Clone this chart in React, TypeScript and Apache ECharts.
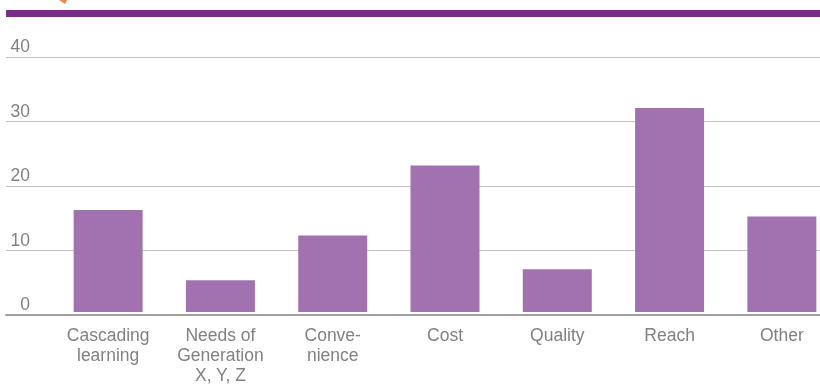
import React, { useEffect, useRef } from "react";
import * as echarts from "echarts";

const categories = [
  "Cascading\nlearning",
  "Needs of\nGeneration\nX, Y, Z",
  "Conve-\nnience",
  "Cost",
  "Quality",
  "Reach",
  "Other",
];
const values = [16, 5, 12, 23, 6.7, 32, 15];
const yTicks = { min: 0, max: 40, interval: 10 };

export default function App() {
  const ref = useRef<HTMLDivElement>(null);
  useEffect(() => {
    if (!ref.current) return;
    const chart = echarts.init(ref.current, null, { renderer: "svg" });
    const font = "'Liberation Sans', Arial, sans-serif";
    const labelColor = "#818181";
    chart.setOption({
      animation: false,
      graphic: [
        { type: "rect", shape: { x: 6, y: 10, width: 814, height: 7 }, style: { fill: "#7c2b8c" } },
        { type: "polygon", shape: { points: [[59, 0], [67, 0], [65, 4]] }, style: { fill: "#f0874a" } },
      ],
      grid: [
        { left: 52, top: 57, width: 786, height: 258 },
        { left: 6, top: 57, width: 814, height: 258 },
      ],
      xAxis: [
        {
          type: "category",
          gridIndex: 0,
          data: categories,
          axisLine: { show: false },
          axisTick: { show: false },
          axisLabel: {
            interval: 0,
            color: labelColor,
            fontSize: 17.5,
            fontFamily: font,
            lineHeight: 20,
            margin: 13,
          },
        },
        {
          type: "category",
          gridIndex: 1,
          data: categories,
          axisLine: { show: true, lineStyle: { color: "#a0a0a0", width: 2 } },
          axisTick: { show: false },
          axisLabel: { show: false },
        },
      ],
      yAxis: [
        { type: "value", gridIndex: 0, ...yTicks, show: false },
        {
          type: "value",
          gridIndex: 1,
          ...yTicks,
          axisLine: { show: false },
          axisTick: { show: false },
          splitLine: { lineStyle: { color: "#c4c4c4", width: 1 } },
          axisLabel: {
            inside: true,
            margin: 24,
            align: "right",
            verticalAlign: "bottom",
            padding: [0, 0, 2, 0],
            color: labelColor,
            fontSize: 17.5,
            fontFamily: font,
          },
        },
      ],
      series: [
        {
          type: "bar",
          xAxisIndex: 0,
          yAxisIndex: 0,
          data: values,
          barWidth: 69,
          itemStyle: { color: "#a272b0" },
          z: 3,
        },
      ],
    });
    return () => chart.dispose();
  }, []);
  return (
    <div style={{ position: "fixed", left: 0, top: 0, width: 820, height: 385, overflow: "hidden" }}>
      <div ref={ref} style={{ width: 840, height: 385 }} />
    </div>
  );
}
